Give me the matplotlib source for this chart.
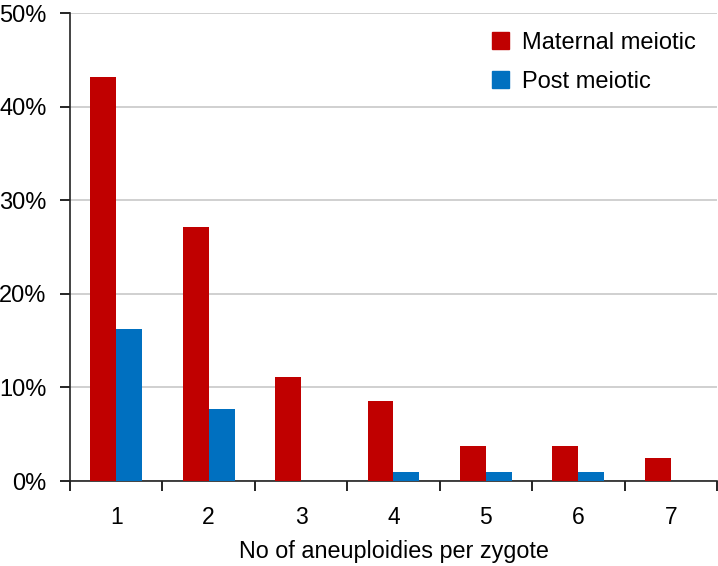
import numpy as np
import matplotlib.pyplot as plt
from matplotlib.patches import Patch

plt.rcParams['font.family'] = ['Liberation Sans', 'DejaVu Sans']

# Datos
categorias = ["1", "2", "3", "4", "5", "6", "7"]
materno = [43.2, 27.1, 11.1, 8.6, 3.7, 3.7, 2.5]
post = [16.2, 7.7, 0.0, 1.0, 1.0, 1.0, 0.0]
yticks = [0, 10, 20, 30, 40, 50]

rojo = "#C00000"
azul = "#0070C0"

fig = plt.figure(figsize=(7.18, 5.66), dpi=100)
ax = fig.add_axes([70 / 718, 85 / 566, 647 / 718, 468 / 566])

x = np.arange(1, len(categorias) + 1)
w = 0.28
ax.bar(x - w / 2, materno, width=w, color=rojo, zorder=3)
ax.bar(x + w / 2, post, width=w, color=azul, zorder=3)

ax.set_xlim(0.5, len(categorias) + 0.5)
ax.set_ylim(0, 50)
ax.set_yticks(yticks)
ax.set_yticklabels([f"{v}%" for v in yticks])
ax.yaxis.grid(True, color="#c8c8c8", lw=1.2, zorder=0)

# Marcas entre categorías
ax.set_xticks(np.arange(0.5, len(categorias) + 1, 1.0))
ax.set_xticklabels([])
ax.set_xticks(x, minor=True)
ax.set_xticklabels(categorias, minor=True)
ax.tick_params(axis="x", which="minor", length=0, pad=18, labelsize=16.5)
ax.tick_params(axis="x", which="major", length=7, width=1.2, direction="out")
ax.tick_params(axis="y", length=7, width=1.2, direction="out", pad=10, labelsize=17)

for s in ["top", "right"]:
    ax.spines[s].set_visible(False)
for s in ["left", "bottom"]:
    ax.spines[s].set_linewidth(1.2)
    ax.spines[s].set_color("#222222")

ax.set_xlabel("No of aneuploidies per zygote", fontsize=16.8, labelpad=8)

handles = [Patch(color=rojo), Patch(color=azul)]
fig.legend(handles, ["Maternal meiotic", "Post meiotic"], loc="upper left",
           bbox_to_anchor=(492 / 718, 1 - 32 / 566), frameon=False, fontsize=17,
           handlelength=0.72, handleheight=0.72, handletextpad=0.55,
           labelspacing=0.72, borderpad=0, borderaxespad=0)

plt.savefig("out.png", dpi=100)
